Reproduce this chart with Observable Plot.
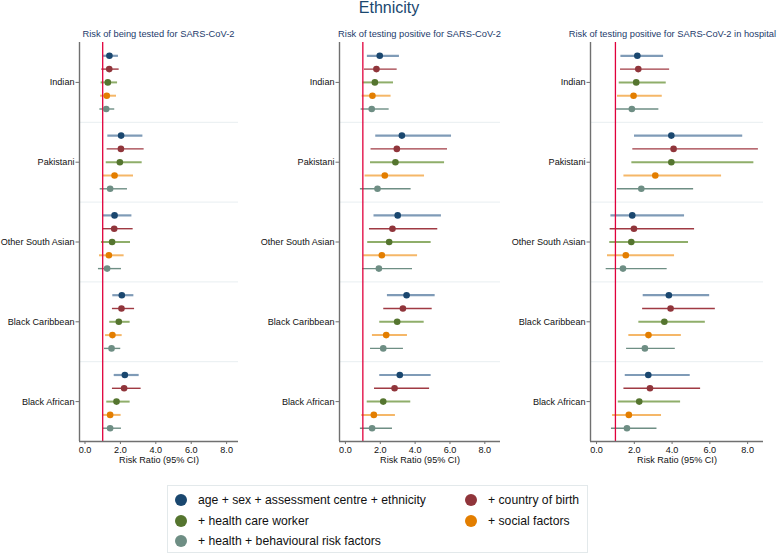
<!DOCTYPE html>
<html><head><meta charset="utf-8">
<script src="https://cdn.jsdelivr.net/npm/d3@7"></script>
<script src="https://cdn.jsdelivr.net/npm/@observablehq/plot@0.6"></script>
<style>
body{margin:0;background:#fff;font-family:"Liberation Sans",Arial,sans-serif;}
#root{position:relative;width:778px;height:556px;overflow:hidden;background:#fff;}
.title{position:absolute;left:0;width:778px;top:-2px;text-align:center;font-size:16px;line-height:20px;color:#1a476f;}
.sub{position:absolute;top:28px;font-size:9.3px;line-height:12px;color:#1c3a6b;white-space:nowrap;}
.panel{position:absolute;top:37px;}
.legend{position:absolute;left:167px;top:485px;width:421px;height:68px;border:1px solid #e3e9eb;box-sizing:border-box;
  display:grid;grid-template-columns:290px 1fr;grid-auto-rows:20.5px;padding:4px 0 0 7px;font-size:12.2px;color:#111;}
.item{display:flex;align-items:center;}
.sw{width:12px;height:12px;border-radius:50%;margin-right:11px;flex:none;}
</style></head><body><div id="root"></div>
<script>
const ethnicities = ["Indian","Pakistani","Other South Asian","Black Caribbean","Black African"];
const models = ["age + sex + assessment centre + ethnicity","+ country of birth","+ health care worker","+ social factors","+ health + behavioural risk factors"];
const panelTitles = ["Risk of being tested for SARS-CoV-2","Risk of testing positive for SARS-CoV-2","Risk of testing positive for SARS-CoV-2 in hospital"];
const xTicks = [0,2,4,6,8];
const xLabel = "Risk Ratio (95% CI)";
const mainTitle = "Ethnicity";

// Panel 1: tested (rows = ethnicity, cols = model)
const testedRR = [[1.38,1.37,1.29,1.23,1.20],[2.04,2.03,1.97,1.67,1.42],[1.67,1.65,1.53,1.35,1.25],[2.08,2.06,1.91,1.55,1.50],[2.25,2.21,1.78,1.42,1.42]];
const testedLo = [[1.05,0.95,0.91,0.88,0.84],[1.29,1.25,1.20,1.00,0.86],[1.00,1.00,0.93,0.82,0.76],[1.57,1.55,1.40,1.16,1.10],[1.65,1.55,1.23,1.00,1.00]];
const testedHi = [[1.89,1.93,1.84,1.78,1.68],[3.27,3.34,3.23,2.74,2.40],[2.65,2.72,2.57,2.21,2.06],[2.76,2.80,2.55,2.10,2.02],[3.06,3.17,2.55,2.04,2.06]];
// Panel 2: positive
const positiveRR = [[1.97,1.78,1.69,1.55,1.51],[3.24,2.95,2.87,2.26,1.84],[3.00,2.70,2.51,2.09,1.92],[3.51,3.30,2.97,2.34,2.17],[3.12,2.82,2.17,1.63,1.53]];
const positiveLo = [[1.26,1.09,1.00,0.96,0.90],[1.74,1.47,1.44,1.13,0.86],[1.64,1.38,1.28,1.05,0.98],[2.41,2.20,1.97,1.55,1.44],[1.97,1.67,1.25,0.94,0.86]];
const positiveHi = [[3.10,2.97,2.76,2.62,2.51],[6.09,5.86,5.69,4.54,3.77],[5.51,5.30,4.92,4.14,3.85],[5.15,4.98,4.52,3.56,3.33],[4.92,4.83,3.75,2.87,2.70]];
// Panel 3: positive in hospital
const hospitalRR = [[2.16,2.21,2.10,1.96,1.87],[3.96,4.08,3.96,3.11,2.37],[1.89,1.98,1.84,1.55,1.40],[3.83,3.92,3.59,2.75,2.56],[2.74,2.83,2.26,1.71,1.61]];
const hospitalLo = [[1.29,1.27,1.20,1.11,1.06],[2.01,1.92,1.87,1.45,1.10],[0.76,0.72,0.70,0.58,0.51],[2.47,2.44,2.24,1.71,1.59],[1.52,1.45,1.15,0.85,0.79]];
const hospitalHi = [[3.55,3.87,3.69,3.48,3.30],[7.74,8.57,8.33,6.62,5.14],[4.66,5.19,4.87,4.13,3.74],[5.99,6.29,5.76,4.49,4.17],[4.96,5.51,4.45,3.44,3.20]];

// styles
const dotColors = ["#1a476f","#90353b","#55752f","#e37e00","#6e8e84"];
const ciColors = ["#7f9bb7","#a03a43","#8fae6a","#f5b768","#6e8e84"];
const ciWidths = [2.2,1.4,2,2,1.4];

function rows(rr, lo, hi){
  const out = [];
  ethnicities.forEach((e,i) => models.forEach((m,j) => out.push({
    eth:e, model:m, mi:j, pos: i + (j+1)/(models.length+1), rr: rr[i][j], lo: lo[i][j], hi: hi[i][j]
  })));
  return out;
}

const panels = [
  {data: rows(testedRR, testedLo, testedHi), domain:[-0.31,8.67], left:0, width:245, mr:7},
  {data: rows(positiveRR, positiveLo, positiveHi), domain:[-0.34,8.9], left:260, width:245, mr:5},
  {data: rows(hospitalRR, hospitalLo, hospitalHi), domain:[-0.32,8.84], left:511, width:262, mr:10}
];

const root = document.getElementById("root");
const t = document.createElement("div"); t.className="title"; t.textContent = mainTitle; root.appendChild(t);

panels.forEach((p, k) => {
  const ml = 79;
  const chart = Plot.plot({
    width: p.width, height: 434,
    marginLeft: ml, marginRight: p.mr, marginTop: 5, marginBottom: 30,
    style: {fontFamily: "Liberation Sans, Arial, sans-serif", fontSize: "9.1px", background: "transparent", color:"#111", overflow:"visible"},
    x: {domain: p.domain},
    y: {domain: [0, ethnicities.length], reverse: true},
    marks: [
      Plot.ruleY(d3.range(1, ethnicities.length), {stroke: "#e8eef1", strokeWidth: 1}),
      ...models.map((m, j) => Plot.ruleY(p.data.filter(d => d.mi === j), {y: "pos", x1: "lo", x2: "hi", stroke: ciColors[j], strokeWidth: ciWidths[j]})),
      Plot.ruleX([1], {stroke: "#e0003c", strokeWidth: 1.3}),
      Plot.dot(p.data, {x: "rr", y: "pos", r: 3.3, fill: d => dotColors[d.mi], stroke: null}),
      Plot.ruleX([p.domain[0]], {stroke: "#707070", strokeWidth: 1.4}),
      Plot.ruleY([ethnicities.length], {stroke: "#707070", strokeWidth: 1.4}),
      Plot.axisY({ticks: ethnicities.map((e,i) => i + 0.5), tickFormat: d => ethnicities[Math.floor(d)], tickSize: 3.5, tickPadding: 1.5, stroke: "#707070", fill: "#111", label: null}),
      Plot.axisX({ticks: xTicks, tickFormat: d3.format(".1f"), tickSize: 3, tickPadding: 2, stroke: "#707070", fill: "#111",
        label: xLabel, labelAnchor: "center", labelArrow: "none", labelOffset: 21})
    ]
  });
  chart.classList.add("panel");
  chart.style.left = p.left + "px";
  root.appendChild(chart);
  const s = document.createElement("div"); s.className = "sub";
  s.textContent = panelTitles[k];
  root.appendChild(s);
  const w = s.getBoundingClientRect().width;
  const cx = p.left + ml + (p.width - ml - p.mr)/2;
  let left = cx - w/2;
  if (left + w > 776) left = 776 - w;
  s.style.left = left + "px";
});

const lg = document.createElement("div"); lg.className = "legend";
models.forEach((m, j) => {
  const it = document.createElement("div"); it.className = "item";
  const sw = document.createElement("span"); sw.className = "sw"; sw.style.background = dotColors[j];
  const tx = document.createElement("span"); tx.textContent = m;
  it.appendChild(sw); it.appendChild(tx); lg.appendChild(it);
});
root.appendChild(lg);
</script></body></html>
